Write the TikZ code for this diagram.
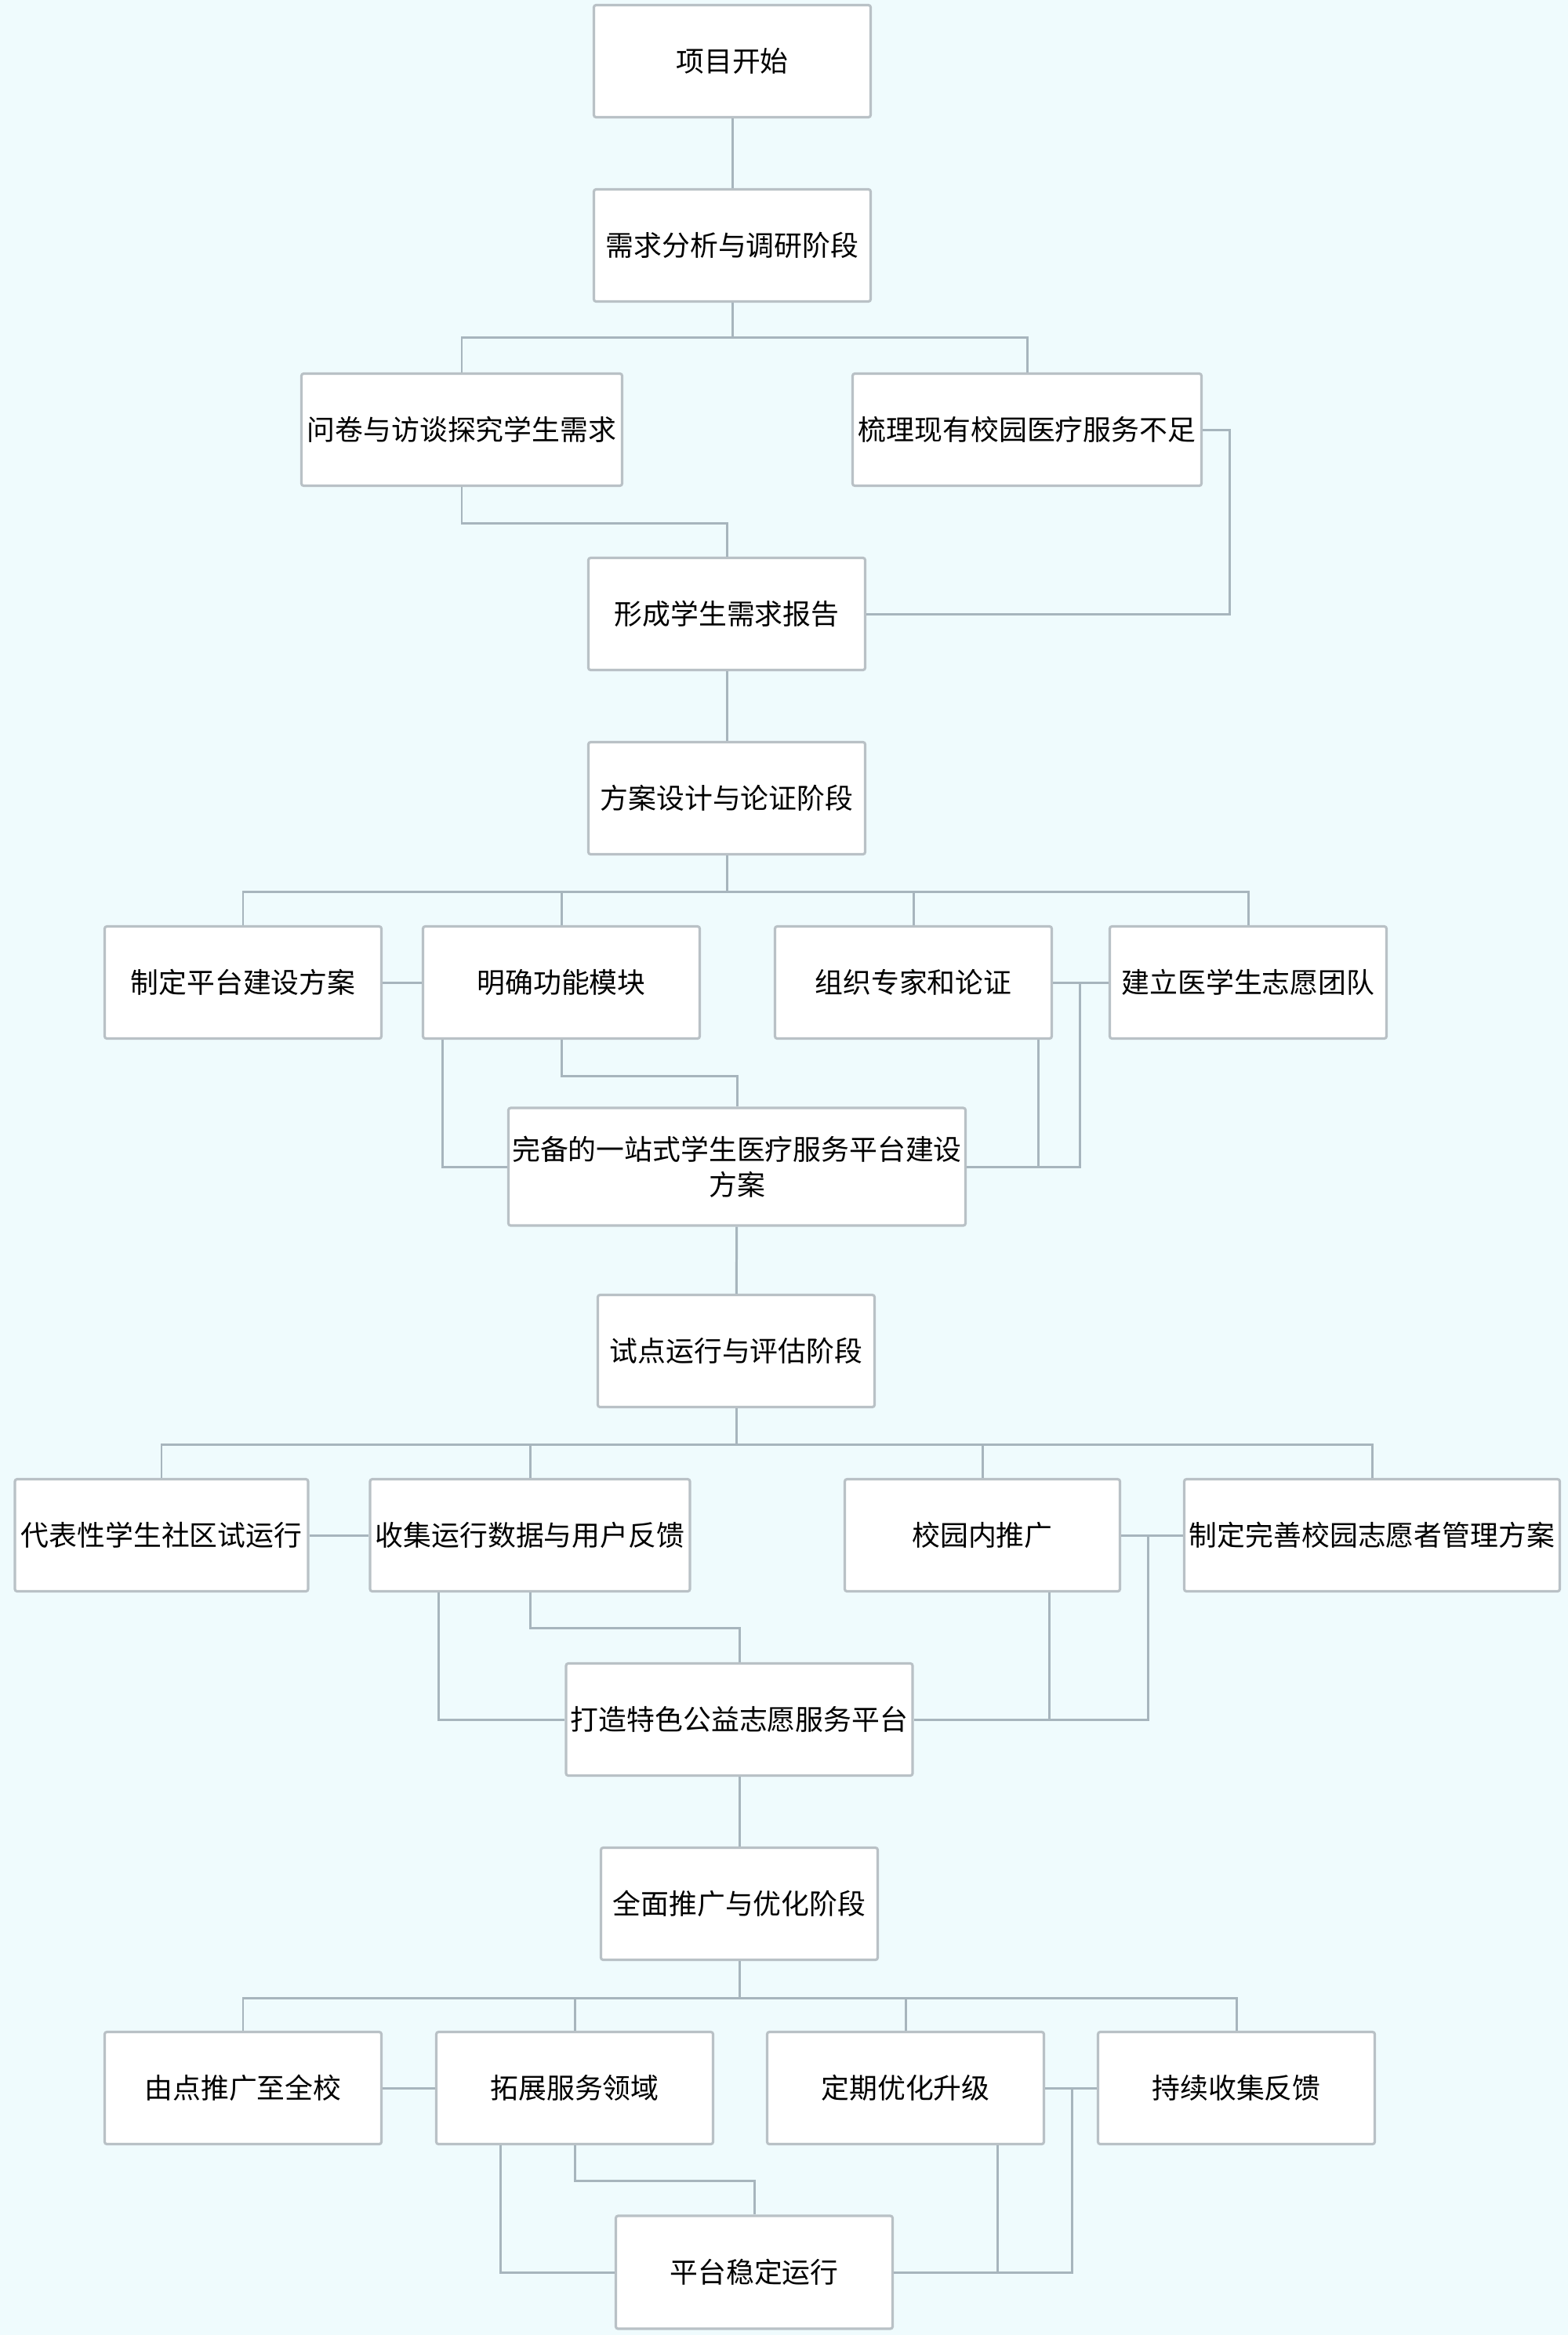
\documentclass[tikz,border=0pt]{standalone}
\usepackage{fontspec}
\newfontfamily\cjk{Noto Sans CJK SC}
\usetikzlibrary{positioning}
\definecolor{fundo}{HTML}{EFFBFD}
\definecolor{borda}{HTML}{B9C1C6}
\definecolor{fio}{HTML}{A7B5BD}
\newcommand{\liga}{\draw[line width=0.85pt,color=fio]}

\begin{document}
\begin{tikzpicture}[node distance=2.35cm,
      caixa/.style={draw=borda, line width=0.9pt, fill=white, rounded corners=0.8pt,
         minimum width=3.53cm, minimum height=1.43cm, inner sep=0pt, align=center,
         font=\cjk\fontsize{10.2}{12.8}\selectfont}]
      \fill[fundo] (0,0) rectangle (20,-29.78);
      \useasboundingbox (0,0) rectangle (20,-29.78);

      % fase 1: necessidades
      \node(start)  [caixa] at (9.34,-0.78)                  {项目开始};
      \node(need)   [caixa, below of=start]                  {需求分析与调研阶段};
      \node(quest)  [caixa, minimum width=4.09cm, below of=need, xshift=-3.45cm] {问卷与访谈探究学生需求};
      \node(sort)   [caixa, minimum width=4.45cm, below of=need, xshift=3.76cm]  {梳理现有校园医疗服务不足};
      \node(report) [caixa, below of=quest, xshift=3.38cm]   {形成学生需求报告};

      \liga(start) -- (need);
      \liga(need.south) -- ++(0,-0.44) -| (quest.north);
      \liga(need.south) -- ++(0,-0.44) -| (sort.north);
      \liga(quest.south) -- ++(0,-0.46) -| (report.north);
      \liga(sort.east) -- ++(0.34,0) |- (report.east);

      % fase 2: projeto
      \node(design) [caixa, below of=report]                 {方案设计与论证阶段};
      \node(d1) [caixa, below of=design, xshift=-6.17cm]     {制定平台建设方案};
      \node(d2) [caixa, below of=design, xshift=-2.11cm]     {明确功能模块};
      \node(d3) [caixa, below of=design, xshift=2.38cm]      {组织专家和论证};
      \node(d4) [caixa, below of=design, xshift=6.65cm]      {建立医学生志愿团队};
      \node(plan) [caixa, minimum width=5.83cm, minimum height=1.5cm, below of=d2, xshift=2.24cm]
            {完备的一站式学生医疗服务平台建设\\方案};

      \liga(report) -- (design);
      \liga(design.south) -- ++(0,-0.46) -| (d1.north);
      \liga(design.south) -- ++(0,-0.46) -| (d2.north);
      \liga(design.south) -- ++(0,-0.46) -| (d3.north);
      \liga(design.south) -- ++(0,-0.46) -| (d4.north);
      \liga(d1) -- (d2);
      \liga(d3) -- (d4);
      \liga([xshift=0.27cm]d2.south west) |- (plan.west);
      \liga(d2.south) -- ++(0,-0.46) -| (plan.north);
      \liga([xshift=-0.19cm]d3.south east) |- (plan.east);
      \liga([xshift=0.34cm]d3.east) |- (plan.east);

      % fase 3: piloto
      \node(pilot) [caixa, below of=plan, xshift=-0.01cm]    {试点运行与评估阶段};
      \node(p1) [caixa, minimum width=3.74cm, below of=pilot, xshift=-7.33cm] {代表性学生社区试运行};
      \node(p2) [caixa, minimum width=4.08cm, below of=pilot, xshift=-2.63cm] {收集运行数据与用户反馈};
      \node(p3) [caixa, minimum width=3.51cm, below of=pilot, xshift=3.14cm]  {校园内推广};
      \node(p4) [caixa, minimum width=4.79cm, below of=pilot, xshift=8.11cm]  {制定完善校园志愿者管理方案};
      \node(build) [caixa, minimum width=4.42cm, below of=p2, xshift=2.67cm]  {打造特色公益志愿服务平台};

      \liga(plan) -- (pilot);
      \liga(pilot.south) -- ++(0,-0.46) -| (p1.north);
      \liga(pilot.south) -- ++(0,-0.46) -| (p2.north);
      \liga(pilot.south) -- ++(0,-0.46) -| (p3.north);
      \liga(pilot.south) -- ++(0,-0.46) -| (p4.north);
      \liga(p1) -- (p2);
      \liga(p3) -- (p4);
      \liga([xshift=-1.17cm]p2.south) |- (build.west);
      \liga(p2.south) -- ++(0,-0.45) -| (build.north);
      \liga([xshift=-0.92cm]p3.south east) |- (build.east);
      \liga([xshift=0.34cm]p3.east) |- (build.east);

      % fase 4: ampliação
      \node(full) [caixa, below of=build]                    {全面推广与优化阶段};
      \node(f1) [caixa, below of=full, xshift=-6.33cm]       {由点推广至全校};
      \node(f2) [caixa, below of=full, xshift=-2.10cm]       {拓展服务领域};
      \node(f3) [caixa, below of=full, xshift=2.12cm]        {定期优化升级};
      \node(f4) [caixa, below of=full, xshift=6.34cm]        {持续收集反馈};
      \node(stable) [caixa, minimum height=1.44cm, below of=f2, xshift=2.29cm] {平台稳定运行};

      \liga(build) -- (full);
      \liga(full.south) -- ++(0,-0.47) -| (f1.north);
      \liga(full.south) -- ++(0,-0.47) -| (f2.north);
      \liga(full.south) -- ++(0,-0.47) -| (f3.north);
      \liga(full.south) -- ++(0,-0.47) -| (f4.north);
      \liga(f1) -- (f2);
      \liga(f3) -- (f4);
      \liga([xshift=-0.95cm]f2.south) |- (stable.west);
      \liga(f2.south) -- ++(0,-0.45) -| (stable.north);
      \liga([xshift=-0.61cm]f3.south east) |- (stable.east);
      \liga([xshift=0.34cm]f3.east) |- (stable.east);
   \end{tikzpicture}
\end{document}
